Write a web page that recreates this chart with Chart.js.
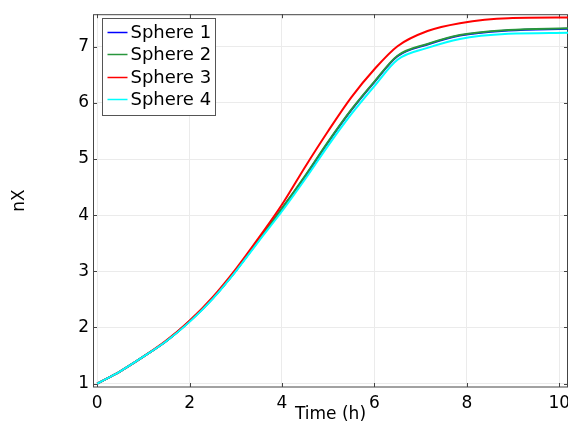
<!DOCTYPE html>
<html>
<head>
<meta charset="utf-8">
<script src="https://cdn.jsdelivr.net/npm/chart.js@4/dist/chart.umd.min.js"></script>
<style>
html,body{margin:0;padding:0;background:#fff}
</style>
</head>
<body>
<canvas id="c" width="568" height="430"></canvas>
<script>
// time points (h)
const time=[0,0.5,1,1.5,2,2.5,3,3.5,4,4.5,5,5.5,6,6.5,7.15,7.85,8.9,10.2];
const sphere1=[1.00,1.22,1.48,1.76,2.11,2.52,3.01,3.56,4.12,4.69,5.30,5.87,6.37,6.83,7.04,7.20,7.29,7.32];
const sphere2=[1.00,1.22,1.48,1.76,2.11,2.52,3.01,3.56,4.12,4.70,5.31,5.88,6.38,6.84,7.05,7.21,7.30,7.33];
const sphere3=[1.00,1.22,1.48,1.77,2.12,2.54,3.04,3.60,4.19,4.86,5.50,6.10,6.60,7.01,7.28,7.42,7.51,7.52];
const sphere4=[1.00,1.22,1.48,1.76,2.10,2.51,3.00,3.54,4.07,4.64,5.24,5.80,6.30,6.77,6.98,7.14,7.23,7.25];
const labels=["Sphere 1","Sphere 2","Sphere 3","Sphere 4"];
const colors=["#0000ff","rgb(40,150,60)","#ff0000","#00ffff"];
const xTicks=[0,2,4,6,8,10];
const yTicks=[1,2,3,4,5,6,7];

Chart.defaults.font.family="'DejaVu Sans', sans-serif";
Chart.defaults.font.size=17;
Chart.defaults.color="#000";

const series=[sphere1,sphere2,sphere3,sphere4];

// frame + inward ticks
const frame={id:"frame",beforeDatasetsDraw(chart){
const {ctx,chartArea:a,scales:{x,y}}=chart;
ctx.save();
ctx.strokeStyle="#444";
ctx.lineWidth=1;
ctx.strokeRect(a.left+0.5,a.top+0.5,a.right-a.left-1,a.bottom-a.top-0.5);
ctx.beginPath();
xTicks.forEach(v=>{
const px=Math.round(x.getPixelForValue(v))+0.5;
ctx.moveTo(px,a.bottom);ctx.lineTo(px,a.bottom-4);
ctx.moveTo(px,a.top);ctx.lineTo(px,a.top+4);
});
yTicks.forEach(v=>{
const py=Math.round(y.getPixelForValue(v))+0.5;
ctx.moveTo(a.left,py);ctx.lineTo(a.left+4,py);
ctx.moveTo(a.right,py);ctx.lineTo(a.right-4,py);
});
ctx.stroke();
ctx.restore();
}};

// legend box inside the plot
const boxLegend={id:"boxLegend",afterDraw(chart){
const ctx=chart.ctx;
const L=102.5,T=18.5,W=113,H=97;
ctx.save();
ctx.fillStyle="#fff";
ctx.fillRect(L,T,W,H);
ctx.strokeStyle="#555";
ctx.lineWidth=1;
ctx.strokeRect(L,T,W,H);
ctx.font="18px 'DejaVu Sans'";
ctx.textBaseline="middle";
chart.data.datasets.forEach((d,i)=>{
const cy=Math.round(T+13+i*22.5)+0.5;
ctx.strokeStyle=d.borderColor;
ctx.lineWidth=1.5;
ctx.beginPath();ctx.moveTo(L+5,cy);ctx.lineTo(L+25,cy);ctx.stroke();
ctx.fillStyle="#000";
ctx.fillText(d.label,L+28,cy+1);
});
ctx.restore();
}};

new Chart(document.getElementById("c"),{
type:"line",
data:{
datasets:series.map((s,i)=>({
label:labels[i],
data:s.map((v,j)=>({x:time[j],y:v})),
borderColor:colors[i],
backgroundColor:colors[i],
borderWidth:2,
pointRadius:0,
cubicInterpolationMode:"monotone",
order:4-i
}))
},
options:{
responsive:false,
animation:false,
layout:{padding:{top:8,right:0,left:0,bottom:0}},
plugins:{legend:{display:false},tooltip:{enabled:false}},
scales:{
x:{
type:"linear",
min:-0.09,max:10.19,
afterBuildTicks(s){s.ticks=xTicks.map(v=>({value:v}));},
afterFit(s){s.height=43;s.paddingLeft=0;s.paddingRight=0;},
grid:{color:"#ebebeb",drawTicks:false},
border:{display:false},
ticks:{padding:6,maxRotation:0,callback:v=>v},
title:{display:true,text:"Time (h)",padding:{top:0,bottom:5}}
},
y:{
type:"linear",
min:0.94,max:7.58,
afterBuildTicks(s){s.ticks=yTicks.map(v=>({value:v}));},
afterFit(s){s.width=93;},
grid:{color:"#ebebeb",drawTicks:false},
border:{display:false},
ticks:{padding:4,callback:v=>v},
title:{display:true,text:"nX",padding:{top:9}}
}
}
},
plugins:[frame,boxLegend]
});
</script>
</body>
</html>
